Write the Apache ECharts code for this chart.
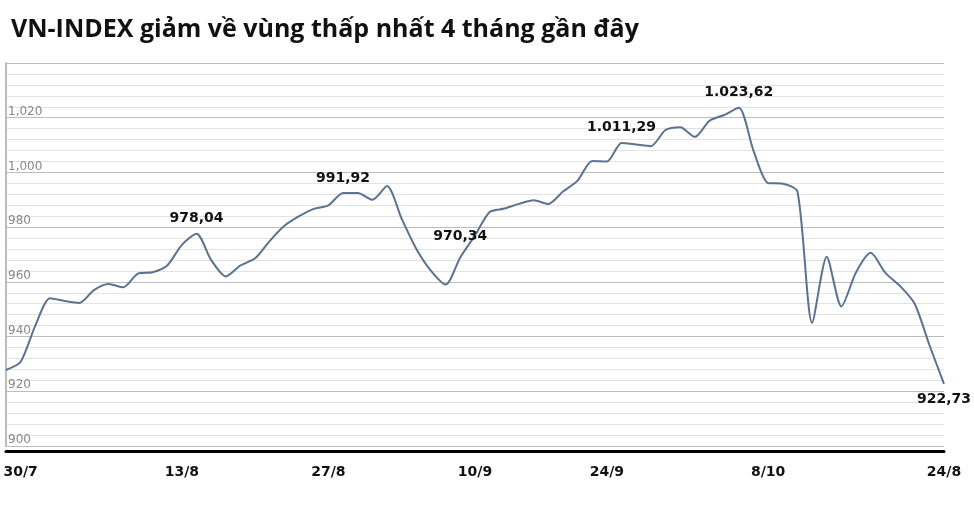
<!DOCTYPE html>
<html>
<head>
<meta charset="utf-8">
<script src="https://cdn.jsdelivr.net/npm/echarts@6/dist/echarts.min.js"></script>
<style>html,body{margin:0;padding:0;background:#fff}#chart{width:974px;height:511px}</style>
</head>
<body>
<div id="chart"></div>
<script>
// VN-INDEX theo phiên
var values = [
    927.8, 930.8, 944, 954, 953, 952.3, 957, 959.2, 958, 963,
    963.5, 966, 973.5, 977.6, 968, 962, 966, 968.6, 975, 980.5,
    984, 986.7, 988, 992.5, 992.5, 990, 995, 983, 972, 964,
    959, 969, 977, 985.5, 986.8, 988.5, 989.8, 988.5, 993, 997,
    1004.2, 1004, 1010.8, 1010.2, 1009.6, 1015.5, 1016.5, 1013, 1018.9, 1021,
    1023.6, 1008, 996.1, 995.9, 993, 945, 969.2, 951, 963.5, 970.6,
    963.3, 958.5, 952, 937, 922.73
];
var tickIdx = [1, 12, 22, 32, 41, 52, 64];
var tickText = ['30/7', '13/8', '27/8', '10/9', '24/9', '8/10', '24/8'];
var noteIdx = [13, 23, 31, 42, 50, 64];
var noteText = ['978,04', '991,92', '970,34', '1.011,29', '1.023,62', '922,73'];

var cats = values.map(function (v, i) {
    var k = tickIdx.indexOf(i);
    return k >= 0 ? tickText[k] : 'd' + i;
});
var data = values.map(function (v, i) {
    var k = noteIdx.indexOf(i);
    if (k < 0) return v;
    return {
        value: v,
        label: {
            show: true,
            formatter: noteText[k],
            position: i === 64 ? 'bottom' : 'top',
            distance: i === 31 ? 14 : 8,
            fontWeight: 'bold',
            fontSize: 14,
            color: '#111',
            fontFamily: 'DejaVu Sans'
        }
    };
});

var chart = echarts.init(document.getElementById('chart'));
chart.setOption({
    animation: false,
    title: {
        text: 'VN-INDEX giảm về vùng thấp nhất 4 tháng gần đây',
        left: 6, top: 12,
        textStyle: {fontSize: 25, fontWeight: 'bold', color: '#111', fontFamily: 'Open Sans'}
    },
    grid: {left: 6, right: 30, top: 63, bottom: 65},
    xAxis: {
        type: 'category',
        data: cats,
        boundaryGap: false,
        offset: 5,
        axisLine: {lineStyle: {color: '#000', width: 3}},
        axisTick: {show: false},
        axisLabel: {
            interval: function (i) { return tickIdx.indexOf(i) >= 0; },
            margin: 14,
            fontWeight: 'bold', fontSize: 14, color: '#111', fontFamily: 'DejaVu Sans'
        }
    },
    yAxis: {
        type: 'value',
        min: 900, max: 1040, interval: 20,
        axisLine: {show: true, lineStyle: {color: '#bbb', width: 2}},
        axisTick: {show: false},
        axisLabel: {
            inside: true,
            verticalAlign: 'bottom',
            margin: 2,
            color: '#888', fontSize: 12, fontFamily: 'DejaVu Sans',
            formatter: function (v) {
                if (v === 1040) return '';
                return v >= 1000 ? '1,' + String(v).slice(1) : String(v);
            }
        },
        splitLine: {lineStyle: {color: '#bdbdbd', width: 1}},
        minorTick: {show: false, splitNumber: 5},
        minorSplitLine: {show: true, lineStyle: {color: '#e2e2e2', width: 1}}
    },
    series: [{
        type: 'line',
        data: data,
        smooth: 0.25,
        symbol: 'circle',
        symbolSize: 0.1,
        showSymbol: true,
        itemStyle: {color: '#5b7290'},
        lineStyle: {color: '#5b7290', width: 2}
    }]
});
</script>
</body>
</html>
